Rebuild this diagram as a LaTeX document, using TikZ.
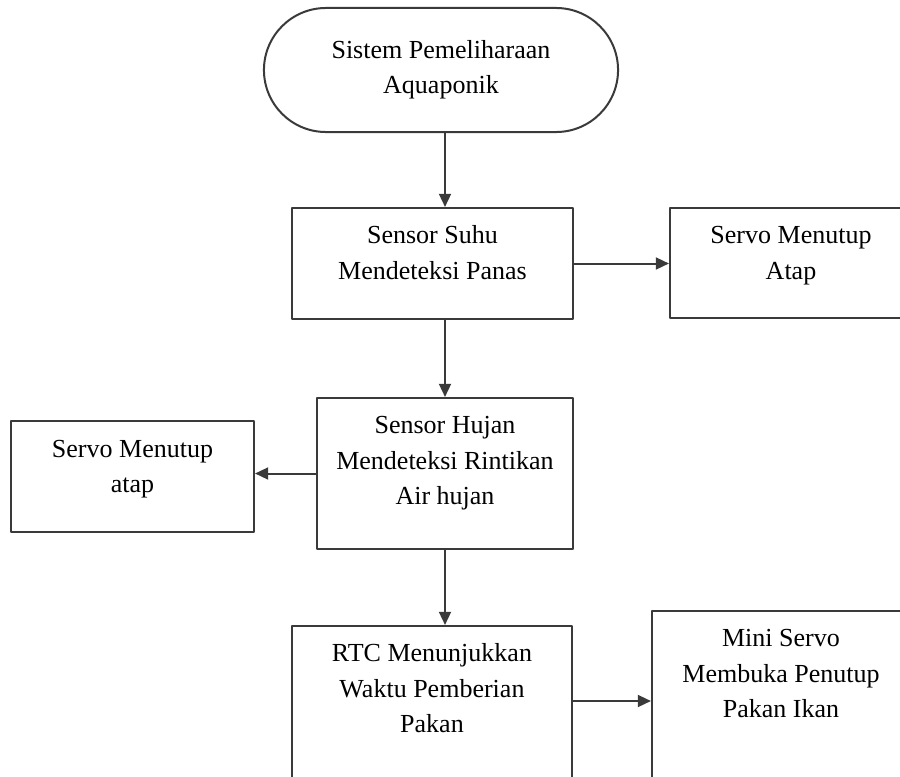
\documentclass[tikz,border=0pt]{standalone}
\usepackage{fontspec}
\setmainfont{Liberation Serif}
\usetikzlibrary{arrows.meta}
\definecolor{garis}{HTML}{3A3A3A}
\newcommand{\isi}[3]{\begin{minipage}[c][#2][t]{#1}\centering\rule{0pt}{0.9cm}#3\end{minipage}}
\tikzset{
	kotak/.style={draw=garis, line width=0.05cm, inner sep=0pt},
	mulai/.style={draw=garis, line width=0.05cm, rounded corners=1.55cm, minimum width=8.85cm, minimum height=3.1cm, align=center},
	panah/.style={draw=garis, line width=0.05cm, -{Triangle[length=0.33cm,width=0.3cm]}}
}
\begin{document}
\begin{tikzpicture}[x=0.025cm, y=-0.025cm, font=\fontsize{18.5}{25}\selectfont, line join=round]
	\useasboundingbox (0,0) rectangle (900,776);
	\node[mulai] (mulai) at (441,70) {Sistem Pemeliharaan\\Aquaponik};
	\node[kotak] (suhu) at (432.5,263.5) {\isi{7.025cm}{2.775cm}{Sensor Suhu\\Mendeteksi Panas}};
	\node[kotak] (atap1) at (791,263) {\isi{6.05cm}{2.75cm}{Servo Menutup\\Atap}};
	\node[kotak] (hujan) at (445,473.5) {\isi{6.4cm}{3.775cm}{Sensor Hujan\\Mendeteksi Rintikan\\Air hujan}};
	\node[kotak] (atap2) at (132.5,476.5) {\isi{6.075cm}{2.775cm}{Servo Menutup\\atap}};
	\node[kotak] (rtc) at (432,723) {\isi{7cm}{4.85cm}{RTC Menunjukkan\\Waktu Pemberian\\Pakan}};
	\node[kotak] (mini) at (781,715.5) {\isi{6.45cm}{5.225cm}{Mini Servo\\Membuka Penutup\\Pakan Ikan}};
	% alur
	\draw[panah] (mulai.south -| hujan) -- (suhu.north -| hujan);
	\draw[panah] (suhu.east) -- (suhu.east -| atap1.west);
	\draw[panah] (suhu.south -| hujan) -- (hujan.north);
	\draw[panah] (hujan.west) -- (hujan.west -| atap2.east);
	\draw[panah] (hujan.south) -- (rtc.north -| hujan);
	\coordinate (jam) at (572,701);
	\draw[panah] (jam) -- (jam -| mini.west);
\end{tikzpicture}
\end{document}
